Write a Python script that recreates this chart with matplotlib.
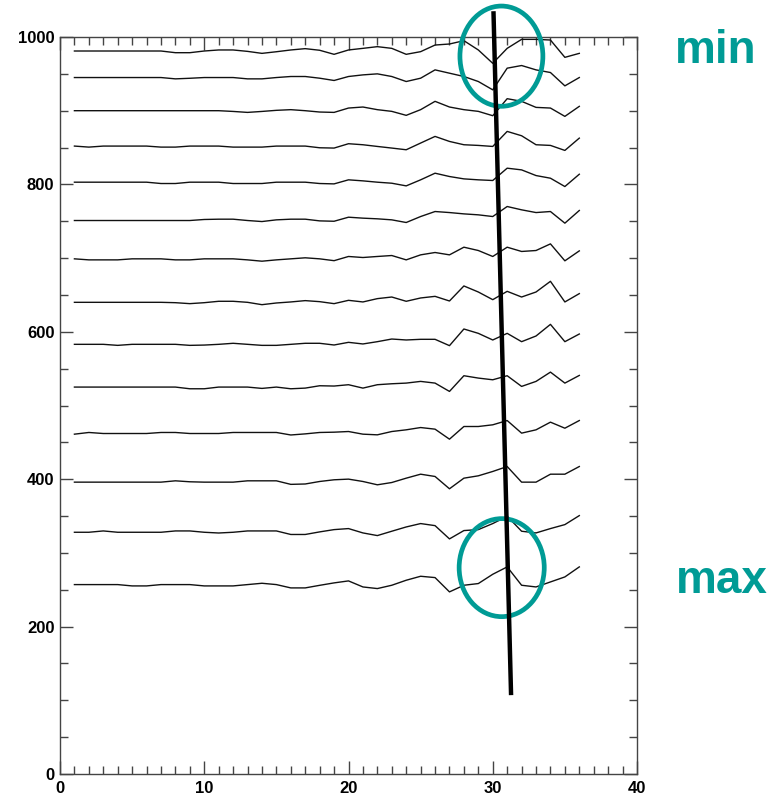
import matplotlib
matplotlib.use("Agg")
import matplotlib.pyplot as plt
from matplotlib.ticker import MultipleLocator
from matplotlib.patches import Ellipse

plt.rcParams['font.family'] = ['Liberation Sans', 'DejaVu Sans']

# sample index along each trace
samples = list(range(1, 37))

# vertical offsets of the 14 traces (top to bottom)
offsets = [981, 945, 900, 852, 803, 751, 699, 640, 583, 525, 462, 396, 328, 257]

# deviations of each trace from its offset, one value per sample
trace_01 = [0, 0, 0, 0, 0, 0, 0, -2.3, -2.3, 0, 1.4, 1.4, -0.5, -3.2, -1, 1.4, 3.2, 1,
            -4.5, 1.4, 3.6, 5.9, 3.6, -4.5, -0.9, 8.1, 9.5, 14, 1.4, -16.7, 3.6, 15.8, 15.8, 14.9, -8.6, -3.2]
trace_02 = [0, 0, 0, 0, 0, 0, 0, -1.8, -1, 0, 0, 0, -1.8, -1.8, 0, 1.4, 1.4, -0.9,
            -4, 1.4, 3.6, 5, 1.4, -5.4, -0.9, 10.4, 5.9, 1.4, -5.4, -16.7, 12.7, 16.3, 10.4, 6.8, -11.3, 0]
trace_03 = [0, 0, 0, 0, 0, 0, 0, 0, 0, 0, 0, -1, -2.3, -1, 0.5, 1.4, 0, -1.8,
            -2.3, 3.6, 5, 1.4, -0.9, -6.3, 1.4, 12.7, 5, 1.4, -0.9, -6.8, 16.3, 12.7, 4.5, 3.6, -7.7, 5.9]
trace_04 = [0, -1.4, 0, 0, 0, 0, -1.4, -1.4, 0, 0, 0, -1.4, -1.4, -1.4, 0, 0, 0, -2.3,
            -2.7, 3.2, 1.8, -0.5, -2.7, -5, 4.1, 13.1, 6.3, 1.8, 0.9, -0.5, 19.9, 14, 1.8, 0.9, -5.9, 10.8]
trace_05 = [0, 0, 0, 0, 0, 0, -1.8, -1.8, 0, 0, 0, -1.8, -1.8, -1.8, 0, 0, 0, -1.8,
            -2.3, 3.2, 1.8, 0, -1.4, -5, 3.2, 12.2, 7.7, 4.5, 3.2, 2.3, 19, 16.7, 9, 5.4, -5.9, 10.8]
trace_06 = [0, 0, 0, 0, 0, 0, 0, 0, 0, 1.4, 1.8, 1.8, 0, -1.4, 0.9, 1.8, 1.8, -0.5,
            -1, 4.5, 3.2, 2.3, 0.9, -2.7, 5.4, 12.2, 10.8, 9, 7.7, 5.4, 19, 14.5, 10.8, 12.2, -3.6, 13.6]
trace_07 = [0, -1.4, -1.4, -1.4, 0, 0, 0, -1.4, -1.4, 0, 0, 0, -1.4, -3.2, -1.4, 0, 1.4, 0,
            -2.5, 3.2, 1.8, 3.2, 4.5, -1.4, 5.4, 8.6, 5.4, 15.8, 11.3, 3.2, 15.8, 10, 11.3, 20.3, -2.7, 10.8]
trace_08 = [0, 0, 0, 0, 0, 0, 0, -0.5, -1.8, -0.5, 1.4, 1.4, 0, -3.2, -0.9, 0.5, 2.3, 0.9,
            -1.8, 2.7, 0.5, 5, 7.2, 1.4, 5.9, 8.1, 1.8, 22.2, 14, 3.6, 14.9, 7.2, 14, 28.5, 0.5, 11.8]
trace_09 = [0, 0, 0, -1.4, 0, 0, 0, 0, -1.4, -1, 0, 1.4, 0, -1.4, -1.4, 0, 1.4, 1.4,
            -0.9, 2.7, 0.5, 3.6, 7.2, 5.9, 6.8, 6.8, -1.8, 20.8, 14.9, 5.9, 14.9, 3.6, 11.3, 27.1, 3.6, 14]
trace_10 = [0, 0, 0, 0, 0, 0, 0, 0, -2.3, -2.3, 0, 0, 0, -1.8, 0, -2.3, -1.4, 1.8,
            1.4, 3.2, -1.4, 3.2, 4.5, 5.4, 7.7, 5.4, -5.9, 15.4, 12.2, 9.9, 15.4, 0.9, 7.7, 20.3, 5.4, 15.8]
trace_11 = [-0.9, 1.4, 0, 0, 0, 0, 1.4, 1.4, 0, 0, 0, 1.4, 1.4, 1.4, 1.4, -2, -0.5, 1.4,
            1.8, 2.7, -0.9, -1.8, 2.7, 5, 8.1, 5.9, -7.7, 9.5, 9.5, 11.8, 17.6, 0.5, 5, 15.4, 7.2, 17.6]
trace_12 = [0, 0, 0, 0, 0, 0, 0, 1.8, 0.5, 0, 0, 0, 1.8, 1.8, 1.8, -3, -2.5, 0.9,
            3.2, 4.1, 0.9, -3.6, -0.5, 5.4, 10.8, 7.7, -9, 5.4, 8.6, 14.5, 21.2, 0, 0, 10.8, 10.8, 21.2]
trace_13 = [0, 0, 1.8, 0, 0, 0, 0, 1.8, 1.8, 0, -1, 0, 1.8, 1.8, 1.8, -3, -3, 0.5,
            3.6, 5, -0.9, -4.5, 1.4, 7.2, 11.8, 9, -9, 2.3, 3.6, 11.8, 21.7, 1.4, -0.9, 5, 10.4, 22.6]
trace_14 = [0, 0, 0, 0, -1.8, -1.8, 0, 0, 0, -1.8, -1.8, -1.8, 0, 1.8, 0, -4.5, -4.5, -1,
            2.3, 5, -3.2, -5.4, -0.9, 5.9, 11.3, 9.5, -9.9, -0.9, 1.4, 14, 24, -0.9, -3.2, 3.6, 10.4, 24]

traces = [trace_01, trace_02, trace_03, trace_04, trace_05, trace_06, trace_07,
          trace_08, trace_09, trace_10, trace_11, trace_12, trace_13, trace_14]

# annotation: trend line through the min/max positions
trend_x = [30.05, 31.27]
trend_y = [1035, 107]
# annotation ellipses (center x, center y, width, height)
ellipse_min = (30.6, 974, 5.75, 136)
ellipse_max = (30.62, 280, 5.9, 133)
teal = '#009B95'

W, H = 783, 798
fig = plt.figure(figsize=(W / 100, H / 100), dpi=100)
ax = fig.add_axes([60 / W, 1 - 774 / H, 577 / W, 737 / H])

for off, dev in zip(offsets, traces):
    ax.plot(samples, [off + d for d in dev], color='#111111', lw=1.0, zorder=2)

ax.set_xlim(0, 40)
ax.set_ylim(0, 1000)
ax.xaxis.set_major_locator(MultipleLocator(10))
ax.xaxis.set_minor_locator(MultipleLocator(1))
ax.yaxis.set_major_locator(MultipleLocator(200))
ax.yaxis.set_minor_locator(MultipleLocator(50))

ax.tick_params(which='both', direction='in', top=True, right=True,
               color='#444444', width=1.0)
ax.tick_params(which='major', length=9.5)
ax.tick_params(which='minor', length=5.5)
ax.tick_params(axis='y', which='major', pad=4)
ax.tick_params(axis='x', which='major', pad=5)
for lab in ax.get_xticklabels() + ax.get_yticklabels():
    lab.set_fontweight('bold')
    lab.set_fontsize(12)
for sp in ax.spines.values():
    sp.set_color('#444444')
    sp.set_linewidth(1.0)

# annotations
for (cx, cy, w, h) in (ellipse_min, ellipse_max):
    ax.add_patch(Ellipse((cx, cy), w, h, fill=False, ec=teal, lw=3.4,
                         clip_on=False, zorder=3))
ax.plot(trend_x, trend_y, color='black', lw=3.2, clip_on=False,
        solid_capstyle='butt', zorder=4)

fig.text(675 / W, 1 - 63 / H, 'min', color=teal, fontsize=33,
         fontweight='bold', ha='left', va='baseline')
fig.text(676 / W, 1 - 593 / H, 'max', color=teal, fontsize=33,
         fontweight='bold', ha='left', va='baseline')

fig.savefig('out.png', dpi=100)
